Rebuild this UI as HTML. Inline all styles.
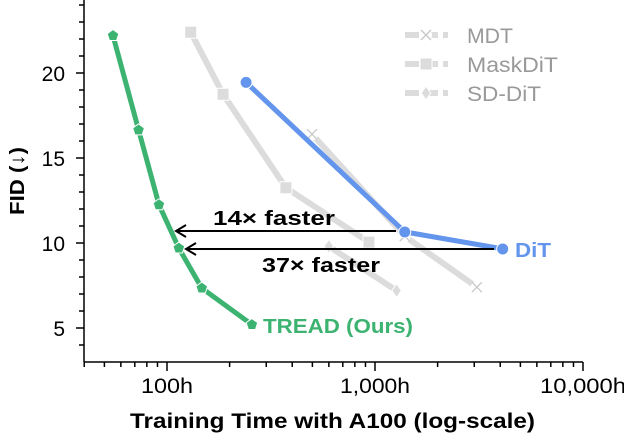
<!DOCTYPE html>
<html><head><meta charset="utf-8"><style>
body{margin:0;background:#fff}
svg{display:block;font-family:"Liberation Sans",sans-serif}
</style></head><body>
<svg id="chart" width="624" height="436">
<g id="grid"></g><g id="series"></g><g id="axes"></g>
</svg>
<script>
const xTickVals=[100,1000,10000];
const xTickLabels=["100h","1,000h","10,000h"];
const yTickVals=[5,10,15,20];
const treadT=[55,73,91.5,114,147,256];
const treadF=[22.2,16.65,12.25,9.7,7.35,5.2];
const ditT=[240,1390,4110];
const ditF=[19.45,10.65,9.65];
const maskT=[130,186,373,935];
const maskF=[22.4,18.75,13.25,10.05];
const mdtT=[498,1390,3090];
const mdtF=[16.4,10.4,7.4];
const sdT=[600,1270];
const sdF=[9.8,7.2];
const NS="http://www.w3.org/2000/svg";
const X=t=>167+208*Math.log10(t/100);
const Y=v=>328-(v-5)*17;
const gS=document.getElementById('series'),gA=document.getElementById('axes');
function mk(tag,attrs,parent){const e=document.createElementNS(NS,tag);for(const k in attrs)e.setAttribute(k,attrs[k]);parent.appendChild(e);return e;}
function marker(type,cx,cy,col,parent,s){
 const st={stroke:'#fff','stroke-width':2,'paint-order':'stroke'};
 if(type==='sq')return mk('rect',Object.assign({x:cx-s,y:cy-s,width:2*s,height:2*s,fill:col},st),parent);
 if(type==='dia')return mk('polygon',Object.assign({points:`${cx},${cy-s} ${cx+s*0.7},${cy} ${cx},${cy+s} ${cx-s*0.7},${cy}`,fill:col},st),parent);
 if(type==='x'){const g=mk('g',{},parent);mk('circle',{cx,cy,r:s+1,fill:'#fff'},g);const g2=mk('g',{stroke:'#c8c8c8','stroke-width':1.3},g);mk('line',{x1:cx-s,y1:cy-s,x2:cx+s,y2:cy+s},g2);mk('line',{x1:cx-s,y1:cy+s,x2:cx+s,y2:cy-s},g2);return g;}
 if(type==='pent'){let p=[];for(let i=0;i<5;i++){const a=-Math.PI/2+i*2*Math.PI/5;p.push((cx+s*Math.cos(a)).toFixed(1)+','+(cy+s*Math.sin(a)).toFixed(1));}return mk('polygon',Object.assign({points:p.join(' '),fill:col},st),parent);}
 return mk('circle',Object.assign({cx,cy,r:s,fill:col},st),parent);
}
function series(name,T,F,col,mtype,ms,lw){
 const g=mk('g',{},gS);
 
 
 const pts=T.map((t,i)=>X(t).toFixed(1)+','+Y(F[i]).toFixed(1)).join(' ');
 mk('polyline',{points:pts,fill:'none',stroke:col,'stroke-width':lw,'stroke-linejoin':'round'},g);
 T.forEach((t,i)=>{const m=marker(mtype,X(t),Y(F[i]),col,g,ms);
  
  });
}
const gray='#dcdcdc';
series('mdt-series',mdtT,mdtF,gray,'x',5,6);
series('sd-dit-series',sdT,sdF,gray,'dia',6,6);
series('maskdit-series',maskT,maskF,gray,'sq',5.5,6);
series('dit-series',ditT,ditF,'#6495ed','circle',5.5,5);
series('tread-series',treadT,treadF,'#3cb371','pent',5.5,5);
function arrow(name,x1,x2,y){const g=mk('g',{stroke:'#000','stroke-width':2,fill:'none'},gS);
 
 
 mk('line',{x1,y1:y,x2,y2:y},g);mk('polyline',{points:`${x2+10},${y-6} ${x2},${y} ${x2+10},${y+6}`},g);}
arrow('arrow-14x',396,176,231);
arrow('arrow-37x',494,186,249);
function txt(s,attrs,name,parent){const e=mk('text',attrs,parent||gA);e.textContent=s;return e;}
txt('14× faster',{x:213,y:225,'font-size':20,'font-weight':'bold',textLength:122,lengthAdjust:'spacingAndGlyphs'},'label-14x-faster');
txt('37× faster',{x:262,y:272,'font-size':20,'font-weight':'bold',textLength:118,lengthAdjust:'spacingAndGlyphs'},'label-37x-faster');
txt('DiT',{x:515,y:257,'font-size':20,'font-weight':'bold',fill:'#6495ed',textLength:36,lengthAdjust:'spacingAndGlyphs'},'label-dit');
txt('TREAD (Ours)',{x:263,y:333,'font-size':20,'font-weight':'bold',fill:'#3cb371',textLength:150,lengthAdjust:'spacingAndGlyphs'},'label-tread');
const ax=mk('g',{stroke:'#000','stroke-width':1.5},gA);


mk('line',{x1:84,y1:0,x2:84,y2:362},ax);
mk('line',{x1:84,y1:362,x2:583,y2:362},ax);
for(let d=10;d<=10000;d*=10)for(let k=1;k<10;k++){const t=d*k;const x=X(t);if(x<84||x>584)continue;
 const maj=xTickVals.includes(t);mk('line',{x1:x,y1:362,x2:x,y2:maj?371:367},ax);}
for(let v=4;v<=24;v++){const y=Y(v);mk('line',{x1:84,y1:y,x2:v%5===0?76:79,y2:y},ax);}
const xw={"100h":52,"1,000h":70,"10,000h":86};
xTickVals.forEach((t,i)=>txt(xTickLabels[i],{x:X(t)-xw[xTickLabels[i]]/2,y:393,'font-size':21,textLength:xw[xTickLabels[i]],lengthAdjust:'spacingAndGlyphs'},'x-tick-label'));
yTickVals.forEach(v=>txt(String(v),{x:65,y:Y(v)+8,'text-anchor':'end','font-size':21},'y-tick-label'));
txt('Training Time with A100 (log-scale)',{x:130,y:428,'font-size':21,'font-weight':'bold',textLength:405,lengthAdjust:'spacingAndGlyphs'},'x-axis-title');
txt('FID (↓)',{x:-215,y:24,transform:'rotate(-90)','font-size':20,'font-weight':'bold',textLength:68,lengthAdjust:'spacingAndGlyphs'},'y-axis-title');
const lg=mk('g',{},gA);


[['MDT','x',5,46],['MaskDiT','sq',5.5,91],['SD-DiT','dia',6,74]].forEach((e,i)=>{const y=35+i*29;
 const g=mk('g',{},lg);
 
 
 mk('line',{x1:405,y1:y,x2:448,y2:y,stroke:gray,'stroke-width':6,'stroke-dasharray':'14 5'},g);
 marker(e[1],426,y,gray,g,e[2]);
 txt(e[0],{x:467,y:y+8,'font-size':21,fill:'#999',textLength:e[3],lengthAdjust:'spacingAndGlyphs'},'legend-label',g);});
</script>
</body></html>
